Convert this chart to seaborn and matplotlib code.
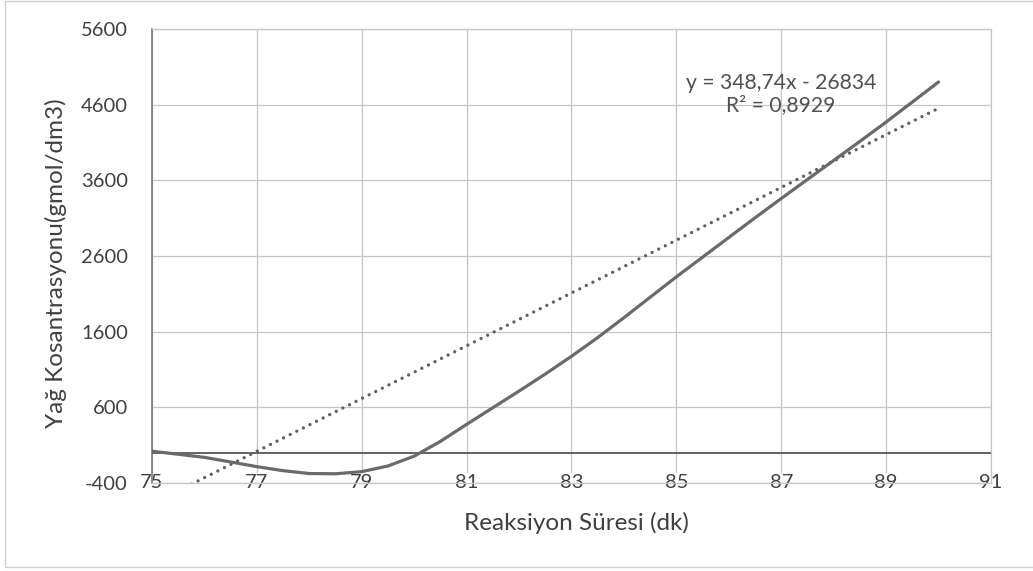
import numpy as np
import pandas as pd
import matplotlib
matplotlib.use("Agg")
import matplotlib.pyplot as plt
import seaborn as sns
from matplotlib.lines import Line2D

# Reaction time (min) and oil concentration (gmol/dm3)
sure = [75, 75.5, 76, 76.5, 77, 77.5, 78, 78.5, 79, 79.5, 80, 80.5, 81, 81.5,
        82, 82.5, 83, 83.5, 84, 84.5, 85, 85.5, 86, 86.5, 87, 87.5, 88, 88.5,
        89, 89.5, 90]
konsantrasyon = [20, -20, -61, -122, -184, -237, -275, -278, -250, -175, -45,
                 150, 375, 595, 815, 1040, 1275, 1522, 1785, 2055, 2325, 2585,
                 2845, 3105, 3360, 3612, 3863, 4115, 4370, 4635, 4900]

# Linear trendline coefficients and goodness of fit
egim = 348.74
kesim = -26834
r_kare = 0.8929

x_ticks = [75, 77, 79, 81, 83, 85, 87, 89, 91]
y_ticks = [-400, 600, 1600, 2600, 3600, 4600, 5600]

sns.set_theme(style="white")
plt.rcParams['font.family'] = ['Lato', 'DejaVu Sans']

W, H = 1033, 571
fig = plt.figure(figsize=(W / 100, H / 100), dpi=100)
fig.patch.set_facecolor("white")

left, right, top, bottom = 152, 991, 29, 483
ax = fig.add_axes([left / W, 1 - bottom / H, (right - left) / W, (bottom - top) / H])

grid_c = "#c6c6c6"
text_c = "#404040"

df = pd.DataFrame({"Süre": sure, "Konsantrasyon": konsantrasyon})
sns.lineplot(data=df, x="Süre", y="Konsantrasyon", ax=ax,
             color="#6a6a6a", lw=2.3, zorder=4,
             solid_joinstyle="round", solid_capstyle="round")

trend_x = np.array([sure[0], sure[-1]], dtype=float)
trend_y = egim * trend_x + kesim
sns.lineplot(x=trend_x, y=trend_y, ax=ax, color="#606060", lw=2.4,
             linestyle=(0, (0.01, 2.2)), dash_capstyle="round", zorder=3)

# Horizontal axis crossing at zero
ax.axhline(0, color="#555555", lw=1.3, zorder=2)

ax.set_xlim(x_ticks[0], x_ticks[-1])
ax.set_ylim(y_ticks[0], y_ticks[-1])
ax.set_xticks(x_ticks)
ax.set_yticks(y_ticks)
ax.set_xticklabels([str(v) for v in x_ticks])
ax.set_yticklabels([str(v) for v in y_ticks])

ax.grid(True, color=grid_c, lw=0.9)
ax.set_axisbelow(True)
for side in ["top", "right", "bottom"]:
    ax.spines[side].set_color(grid_c)
    ax.spines[side].set_linewidth(0.9)
ax.spines["left"].set_color("#707070")
ax.spines["left"].set_linewidth(1.1)

ax.tick_params(axis="both", length=0, labelsize=14.5, labelcolor=text_c)
ax.tick_params(axis="y", pad=24 * 0.72)
ax.tick_params(axis="x", pad=0)
for lab in ax.get_xticklabels():
    lab.set_verticalalignment("center")
    lab.set_bbox(dict(facecolor="white", edgecolor="none", pad=1.0))

ax.set_xlabel("Reaksiyon Süresi (dk)", fontsize=17.5, color=text_c)
ax.set_ylabel("Yağ Kosantrasyonu(gmol/dm3)", fontsize=17.5, color=text_c)
ax.xaxis.set_label_coords((576 - left) / (right - left), -(523 - bottom) / (bottom - top))
ax.xaxis.label.set_verticalalignment("center")
ax.yaxis.set_label_coords((56 - left) / (right - left), (bottom - 263) / (bottom - top))
ax.yaxis.label.set_verticalalignment("center")

denklem = f"y = {egim:.2f}x - {abs(kesim):.0f}".replace(".", ",")
r_metin = f"R² = {r_kare:.4f}".replace(".", ",")
ax.text((781 - left) / (right - left), (bottom - 94) / (bottom - top),
        denklem + "\n" + r_metin, transform=ax.transAxes, ha="center",
        va="center", multialignment="center", fontsize=15.2, color="#505050",
        linespacing=1.15, zorder=5)

# Chart area frame
frame_c = "#cfcfcf"
fig.add_artist(Line2D([5 / W, 5 / W], [1 - 567 / H, 1 - 1 / H], color=frame_c, lw=1.0))
fig.add_artist(Line2D([5 / W, 1], [1 - 567 / H, 1 - 567 / H], color=frame_c, lw=1.0))
fig.add_artist(Line2D([5 / W, 1], [1 - 1 / H, 1 - 1 / H], color=frame_c, lw=1.0))

fig.savefig("out.png", dpi=100, facecolor="white")
